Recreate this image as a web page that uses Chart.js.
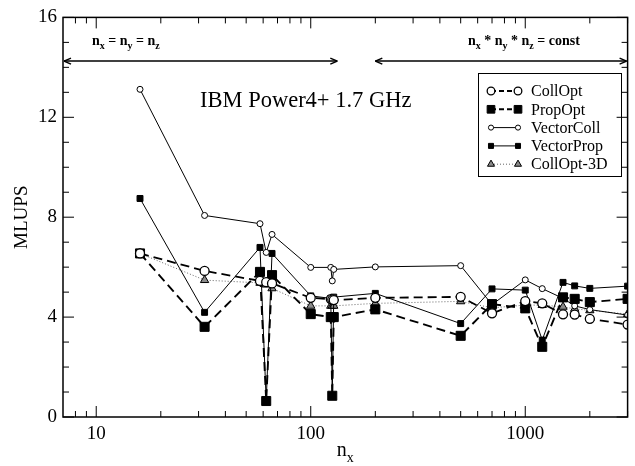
<!DOCTYPE html>
<html>
<head>
<meta charset="utf-8">
<script src="https://cdn.jsdelivr.net/npm/chart.js@4/dist/chart.umd.min.js"></script>
<style>
html, body { margin: 0; padding: 0; background: #fff; }
#wrap { width: 635px; height: 466px; }
</style>
</head>
<body>
<div id="wrap"><canvas id="grafico" width="635" height="466"></canvas></div>
<script>
var nx = [16, 32, 58, 62, 66, 100, 124, 126, 128, 200, 500, 700, 1000, 1200, 1500, 1700, 2000, 3000];

var collOpt    = [6.55, 5.85, 5.45, 5.40, 5.35, 4.77, 4.72, 4.70, 4.68, 4.77, 4.81, 4.15, 4.64, 4.55, 4.11, 4.10, 3.93, 3.70];
var propOpt    = [6.55, 3.61, 5.81, 0.64, 5.68, 4.12, 4.00, 0.85, 4.00, 4.31, 3.25, 4.52, 4.35, 2.81, 4.79, 4.73, 4.60, 4.73];
var vectorColl = [13.12, 8.07, 7.74, 6.59, 7.31, 5.99, 5.99, 5.45, 5.91, 6.01, 6.06, 4.50, 5.49, 5.14, 4.75, 4.45, 4.30, 4.08];
var vectorProp = [8.75, 4.19, 6.79, 0.64, 6.55, 4.85, 4.75, 0.85, 4.80, 4.95, 3.74, 5.13, 5.08, 3.08, 5.39, 5.25, 5.15, 5.24];
var collOpt3D  = [6.55, 5.48, 5.37, 5.30, 5.15, 4.45, 4.45, 4.45, 4.45, 4.55, 4.63, 4.37, 4.48, 4.48, 4.41, 4.33, 4.27, 4.12];

var xMajor = [10, 100, 1000];
var xMinor = [8, 9, 20, 30, 40, 50, 60, 70, 80, 90, 200, 300, 400, 500, 600, 700, 800, 900, 2000, 3000];
var yTicks = [0, 4, 8, 12, 16];

var serif = "'Liberation Serif', 'DejaVu Serif', serif";
var grey3D = '#8a8a8a';

function pontos(valores) {
    var lista = [];
    for (var i = 0; i < nx.length; i++) {
        lista.push({x: nx[i], y: valores[i]});
    }
    return lista;
}

var series = [
    {label: 'CollOpt', data: pontos(collOpt), borderColor: '#000', borderWidth: 1.8, borderDash: [9, 5],
        pointStyle: 'circle', pointRadius: 4.5, pointBackgroundColor: '#fff', pointBorderColor: '#000', pointBorderWidth: 1.3},
    {label: 'PropOpt', data: pontos(propOpt), borderColor: '#000', borderWidth: 1.9, borderDash: [9, 5],
        pointStyle: 'rect', pointRadius: 6.4, pointBackgroundColor: '#000', pointBorderColor: '#000', pointBorderWidth: 1},
    {label: 'VectorColl', data: pontos(vectorColl), borderColor: '#000', borderWidth: 1,
        pointStyle: 'circle', pointRadius: 3, pointBackgroundColor: '#fff', pointBorderColor: '#000', pointBorderWidth: 1},
    {label: 'VectorProp', data: pontos(vectorProp), borderColor: '#000', borderWidth: 1,
        pointStyle: 'rect', pointRadius: 4.2, pointBackgroundColor: '#000', pointBorderColor: '#000', pointBorderWidth: 1},
    {label: 'CollOpt-3D', data: pontos(collOpt3D), borderColor: '#666', borderWidth: 1, borderDash: [1, 2],
        pointStyle: 'triangle', pointRadius: 4.8, pointBackgroundColor: grey3D, pointBorderColor: '#000', pointBorderWidth: 1}
];

function linha(ctx, x1, y1, x2, y2) {
    ctx.beginPath();
    ctx.moveTo(x1, y1);
    ctx.lineTo(x2, y2);
    ctx.stroke();
}

// texto com indices (n_x etc)
function textoIndices(ctx, partes, x, y, tam, tamSub, peso) {
    var px = x;
    for (var i = 0; i < partes.length; i++) {
        var sub = partes[i][1];
        ctx.font = peso + ' ' + (sub ? tamSub : tam) + 'px ' + serif;
        ctx.fillText(partes[i][0], px, sub ? y + tam * 0.32 : y);
        px += ctx.measureText(partes[i][0]).width;
    }
    return px - x;
}

function larguraIndices(ctx, partes, tam, tamSub, peso) {
    var w = 0;
    for (var i = 0; i < partes.length; i++) {
        ctx.font = peso + ' ' + (partes[i][1] ? tamSub : tam) + 'px ' + serif;
        w += ctx.measureText(partes[i][0]).width;
    }
    return w;
}

function seta(ctx, x1, x2, y) {
    linha(ctx, x1, y, x2, y);
    linha(ctx, x1, y, x1 + 7, y - 3);
    linha(ctx, x1, y, x1 + 7, y + 3);
    linha(ctx, x2, y, x2 - 7, y - 3);
    linha(ctx, x2, y, x2 - 7, y + 3);
}

var extras = {
    id: 'extras',
    afterDraw: function (chart) {
        var ctx = chart.ctx;
        var a = chart.chartArea;
        var xs = chart.scales.x;
        var ys = chart.scales.y;
        ctx.save();
        ctx.strokeStyle = '#000';
        ctx.fillStyle = '#000';

        // moldura e ticks para dentro
        ctx.lineWidth = 1.5;
        ctx.strokeRect(a.left, a.top, a.right - a.left, a.bottom - a.top);
        ctx.lineWidth = 1;
        for (var v = 0; v <= 16; v++) {
            var py = ys.getPixelForValue(v);
            var len = (yTicks.indexOf(v) >= 0) ? 11 : 6;
            linha(ctx, a.left, py, a.left + len, py);
            linha(ctx, a.right, py, a.right - len, py);
        }
        for (var i = 0; i < xMinor.length; i++) {
            var p = xs.getPixelForValue(xMinor[i]);
            linha(ctx, p, a.bottom, p, a.bottom - 6);
            linha(ctx, p, a.top, p, a.top + 6);
        }
        for (var j = 0; j < xMajor.length; j++) {
            var pm = xs.getPixelForValue(xMajor[j]);
            linha(ctx, pm, a.bottom, pm, a.bottom - 11);
            linha(ctx, pm, a.top, pm, a.top + 11);
        }

        // titulos dos eixos
        ctx.textBaseline = 'alphabetic';
        ctx.font = '19px ' + serif;
        ctx.save();
        ctx.translate(27, (a.top + a.bottom) / 2);
        ctx.rotate(-Math.PI / 2);
        ctx.textAlign = 'center';
        ctx.fillText('MLUPS', 0, 0);
        ctx.restore();
        ctx.textAlign = 'left';
        var tituloX = [['n', false], ['x', true]];
        var wt = larguraIndices(ctx, tituloX, 20, 14, 'normal');
        textoIndices(ctx, tituloX, (a.left + a.right) / 2 - wt / 2, 456, 20, 14, 'normal');

        // setas e anotacoes
        ctx.lineWidth = 1.5;
        var ySeta = ys.getPixelForValue(14.25);
        seta(ctx, a.left + 1, xs.getPixelForValue(133), ySeta);
        seta(ctx, xs.getPixelForValue(200), a.right - 1, ySeta);
        textoIndices(ctx, [['n', false], ['x', true], [' = n', false], ['y', true], [' = n', false], ['z', true]],
            92, 45, 14, 10, 'bold');
        textoIndices(ctx, [['n', false], ['x', true], [' * n', false], ['y', true], [' * n', false], ['z', true], [' = const', false]],
            468, 45, 14, 10, 'bold');

        ctx.font = '22.5px ' + serif;
        ctx.fillText('IBM Power4+ 1.7 GHz', 200, 107);

        // legenda
        ctx.lineWidth = 1;
        ctx.strokeRect(478.5, 73.5, 143, 103);
        ctx.font = '16px ' + serif;
        ctx.textBaseline = 'middle';
        for (var k = 0; k < series.length; k++) {
            var s = series[k];
            var ly = 91 + k * 18.3;
            ctx.strokeStyle = s.borderColor;
            ctx.lineWidth = s.borderWidth;
            ctx.setLineDash(s.borderDash ? [5, 3] : []);
            if (s.borderDash && s.borderDash[0] == 1) ctx.setLineDash([1, 2]);
            linha(ctx, 491, ly, 518, ly);
            ctx.setLineDash([]);
            ctx.strokeStyle = s.pointBorderColor;
            ctx.fillStyle = s.pointBackgroundColor;
            ctx.lineWidth = s.pointBorderWidth;
            var opc = {pointStyle: s.pointStyle, radius: s.pointRadius * 0.85, rotation: 0, borderWidth: s.pointBorderWidth};
            Chart.helpers.drawPoint(ctx, opc, 491, ly);
            Chart.helpers.drawPoint(ctx, opc, 518, ly);
            ctx.fillStyle = '#000';
            ctx.fillText(s.label, 531, ly + 1);
        }
        ctx.restore();
    }
};

function makeChart() {
    var canvas = document.getElementById('grafico');
    new Chart(canvas, {
        type: 'line',
        data: {datasets: series},
        options: {
            responsive: false,
            animation: false,
            devicePixelRatio: 1,
            layout: {padding: {top: 17, right: 1, left: 0, bottom: 0}},
            plugins: {legend: {display: false}, tooltip: {enabled: false}},
            elements: {line: {tension: 0}},
            scales: {
                x: {
                    type: 'logarithmic',
                    min: 7,
                    max: 3000,
                    grid: {display: false, drawTicks: false},
                    border: {display: false},
                    afterFit: function (scale) { scale.height = 49; },
                    afterBuildTicks: function (scale) {
                        scale.ticks = xMajor.map(function (v) { return {value: v}; });
                    },
                    ticks: {
                        autoSkip: false,
                        maxRotation: 0,
                        padding: 6,
                        color: '#000',
                        font: {family: serif, size: 19},
                        callback: function (v) { return String(v); }
                    }
                },
                y: {
                    type: 'linear',
                    min: 0,
                    max: 16,
                    grid: {display: false, drawTicks: false},
                    border: {display: false},
                    afterFit: function (scale) { scale.width = 63; },
                    ticks: {
                        stepSize: 4,
                        padding: 6,
                        color: '#000',
                        font: {family: serif, size: 19}
                    }
                }
            }
        },
        plugins: [extras]
    });
}

document.addEventListener('DOMContentLoaded', makeChart);
</script>
</body>
</html>
